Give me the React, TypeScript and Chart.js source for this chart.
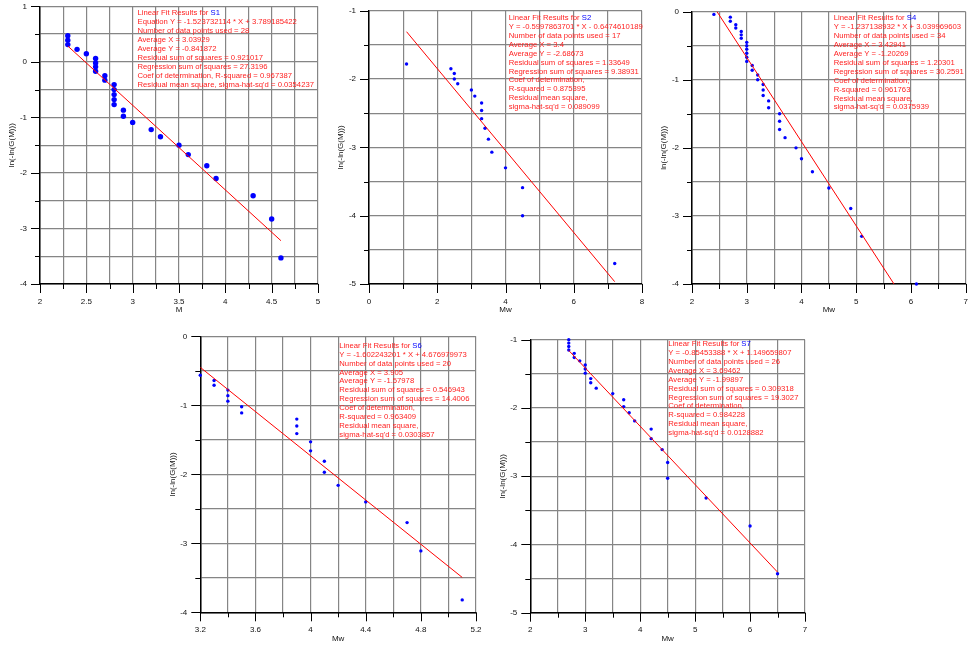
import React, { useEffect, useRef } from 'react';
import { Chart, registerables } from 'chart.js';

Chart.register(...registerables);

const FONT = '"Liberation Sans", Arial, Helvetica, sans-serif';
const Y_TITLE = 'ln(-ln(G(M)))';

// ---------- S1 ----------
const S1_X = [2.3, 2.3, 2.3, 2.4, 2.5, 2.6, 2.6, 2.6, 2.6, 2.7, 2.7, 2.8, 2.8, 2.8, 2.8, 2.8, 2.9, 2.9, 3.0, 3.2, 3.3, 3.5, 3.6, 3.8, 3.9, 4.3, 4.5, 4.6];
const S1_Y = [0.47, 0.39, 0.31, 0.225, 0.147, 0.06, -0.02, -0.09, -0.17, -0.25, -0.33, -0.41, -0.5, -0.59, -0.68, -0.77, -0.87, -0.98, -1.09, -1.22, -1.35, -1.5, -1.67, -1.87, -2.1, -2.41, -2.83, -3.53];
const S1_FIT = [-1.523732114, 3.789185422];
const S1_XTICKS = [2, 2.25, 2.5, 2.75, 3, 3.25, 3.5, 3.75, 4, 4.25, 4.5, 4.75, 5];
const S1_XLABELS = [2, 2.5, 3, 3.5, 4, 4.5, 5];
const S1_YTICKS = [-4, -3.5, -3, -2.5, -2, -1.5, -1, -0.5, 0, 0.5, 1];
const S1_YLABELS = [-4, -3, -2, -1, 0, 1];
const S1_TEXT = [
  'Equation Y = -1.523732114 * X + 3.789185422',
  'Number of data points used = 28',
  'Average X = 3.03929',
  'Average Y = -0.841872',
  'Residual sum of squares = 0.921017',
  'Regression sum of squares = 27.3196',
  'Coef of determination, R-squared = 0.967387',
  "Residual mean square, sigma-hat-sq'd = 0.0354237",
];

// ---------- S2 ----------
const S2_X = [1.1, 2.4, 2.5, 2.5, 2.6, 3.0, 3.1, 3.3, 3.3, 3.3, 3.4, 3.5, 3.6, 4.0, 4.5, 4.5, 7.2];
const S2_Y = [-1.78, -1.85, -1.92, -2.0, -2.07, -2.16, -2.25, -2.35, -2.46, -2.58, -2.72, -2.88, -3.07, -3.3, -3.59, -4.0, -4.7];
const S2_FIT = [-0.5997863701, -0.6474610189];
const S2_XTICKS = [0, 1, 2, 3, 4, 5, 6, 7, 8];
const S2_XLABELS = [0, 2, 4, 6, 8];
const S2_YTICKS = [-5, -4.5, -4, -3.5, -3, -2.5, -2, -1.5, -1];
const S2_YLABELS = [-5, -4, -3, -2, -1];
const S2_TEXT = [
  'Y = -0.5997863701 * X - 0.6474610189',
  'Number of data points used = 17',
  'Average X = 3.4',
  'Average Y = -2.68673',
  'Residual sum of squares = 1.33649',
  'Regression sum of squares = 9.38931',
  'Coef of determination,',
  'R-squared = 0.875395',
  'Residual mean square,',
  "sigma-hat-sq'd = 0.089099",
];

// ---------- S4 ----------
const S4_X = [2.4, 2.7, 2.7, 2.8, 2.8, 2.9, 2.9, 2.9, 3.0, 3.0, 3.0, 3.0, 3.0, 3.0, 3.1, 3.1, 3.2, 3.2, 3.3, 3.3, 3.3, 3.4, 3.4, 3.6, 3.6, 3.6, 3.7, 3.9, 4.0, 4.2, 4.5, 4.9, 5.1, 6.1];
const S4_Y = [-0.04, -0.08, -0.14, -0.19, -0.24, -0.29, -0.34, -0.39, -0.45, -0.5, -0.55, -0.61, -0.67, -0.73, -0.79, -0.86, -0.93, -1.0, -1.07, -1.15, -1.23, -1.31, -1.41, -1.5, -1.61, -1.73, -1.85, -2.0, -2.16, -2.35, -2.59, -2.89, -3.3, -4.0];
const S4_FIT = [-1.237138932, 3.039969603];
const S4_XTICKS = [2, 2.5, 3, 3.5, 4, 4.5, 5, 5.5, 6, 6.5, 7];
const S4_XLABELS = [2, 3, 4, 5, 6, 7];
const S4_YTICKS = [-4, -3.5, -3, -2.5, -2, -1.5, -1, -0.5, 0];
const S4_YLABELS = [-4, -3, -2, -1, 0];
const S4_TEXT = [
  'Y = -1.237138932 * X + 3.039969603',
  'Number of data points used = 34',
  'Average X = 3.42941',
  'Average Y = -1.20269',
  'Residual sum of squares = 1.20301',
  'Regression sum of squares = 30.2591',
  'Coef of determination,',
  'R-squared = 0.961763',
  'Residual mean square,',
  "sigma-hat-sq'd = 0.0375939",
];

// ---------- S6 ----------
const S6_X = [3.2, 3.3, 3.3, 3.4, 3.4, 3.4, 3.5, 3.5, 3.9, 3.9, 3.9, 4.0, 4.0, 4.1, 4.1, 4.2, 4.4, 4.7, 4.8, 5.1];
const S6_Y = [-0.565, -0.64, -0.71, -0.78, -0.86, -0.94, -1.02, -1.11, -1.2, -1.3, -1.41, -1.53, -1.66, -1.81, -1.97, -2.16, -2.4, -2.7, -3.11, -3.82];
const S6_FIT = [-1.602243201, 4.676979973];
const S6_XTICKS = [3.2, 3.4, 3.6, 3.8, 4, 4.2, 4.4, 4.6, 4.8, 5, 5.2];
const S6_XLABELS = [3.2, 3.6, 4, 4.4, 4.8, 5.2];
const S6_YTICKS = [-4, -3.5, -3, -2.5, -2, -1.5, -1, -0.5, 0];
const S6_YLABELS = [-4, -3, -2, -1, 0];
const S6_TEXT = [
  'Y = -1.602243201 * X + 4.676979973',
  'Number of data points used = 20',
  'Average X = 3.905',
  'Average Y = -1.57978',
  'Residual sum of squares = 0.546943',
  'Regression sum of squares = 14.4006',
  'Coef of determination,',
  'R-squared = 0.963409',
  'Residual mean square,',
  "sigma-hat-sq'd = 0.0303857",
];

// ---------- S7 ----------
const S7_X = [2.7, 2.7, 2.7, 2.7, 2.8, 2.8, 2.9, 3.0, 3.0, 3.0, 3.1, 3.1, 3.2, 3.5, 3.7, 3.7, 3.8, 3.9, 4.2, 4.2, 4.4, 4.5, 4.5, 5.2, 6.0, 6.5];
const S7_Y = [-1.0, -1.05, -1.1, -1.15, -1.2, -1.26, -1.31, -1.37, -1.43, -1.49, -1.57, -1.63, -1.71, -1.79, -1.88, -1.98, -2.07, -2.19, -2.31, -2.45, -2.61, -2.8, -3.03, -3.32, -3.73, -4.43];
const S7_FIT = [-0.85453388, 1.149659807];
const S7_XTICKS = [2, 2.5, 3, 3.5, 4, 4.5, 5, 5.5, 6, 6.5, 7];
const S7_XLABELS = [2, 3, 4, 5, 6, 7];
const S7_YTICKS = [-5, -4.5, -4, -3.5, -3, -2.5, -2, -1.5, -1];
const S7_YLABELS = [-5, -4, -3, -2, -1];
const S7_TEXT = [
  'Y = -0.85453388 * X + 1.149659807',
  'Number of data points used = 26',
  'Average X = 3.69462',
  'Average Y = -1.99897',
  'Residual sum of squares = 0.309318',
  'Regression sum of squares = 19.3027',
  'Coef of determination,',
  'R-squared = 0.984228',
  'Residual mean square,',
  "sigma-hat-sq'd = 0.0128882",
];

type PanelDef = {
  name: string;
  xs: number[];
  ys: number[];
  fit: number[];
  xTicks: number[];
  xLabels: number[];
  yTicks: number[];
  yLabels: number[];
  xTitle: string;
  text: string[];
  box: number[]; // canvas left, top, width, height
  plot: number[]; // plot left, top, right, bottom (page px)
  textOff: number[];
  r: number;
};

const PANELS: PanelDef[] = [
  { name: 'S1', xs: S1_X, ys: S1_Y, fit: S1_FIT, xTicks: S1_XTICKS, xLabels: S1_XLABELS, yTicks: S1_YTICKS, yLabels: S1_YLABELS, xTitle: 'M', text: S1_TEXT, box: [0, 0, 330, 320], plot: [40, 6.3, 318, 284], textOff: [97.5, 7], r: 2.7 },
  { name: 'S2', xs: S2_X, ys: S2_Y, fit: S2_FIT, xTicks: S2_XTICKS, xLabels: S2_XLABELS, yTicks: S2_YTICKS, yLabels: S2_YLABELS, xTitle: 'Mw', text: S2_TEXT, box: [330, 0, 320, 320], plot: [369, 10.7, 642, 284], textOff: [139.7, 7.3], r: 1.7 },
  { name: 'S4', xs: S4_X, ys: S4_Y, fit: S4_FIT, xTicks: S4_XTICKS, xLabels: S4_XLABELS, yTicks: S4_YTICKS, yLabels: S4_YLABELS, xTitle: 'Mw', text: S4_TEXT, box: [650, 0, 318, 320], plot: [692, 11.7, 965.7, 284], textOff: [141.7, 6.6], r: 1.7 },
  { name: 'S6', xs: S6_X, ys: S6_Y, fit: S6_FIT, xTicks: S6_XTICKS, xLabels: S6_XLABELS, yTicks: S6_YTICKS, yLabels: S6_YLABELS, xTitle: 'Mw', text: S6_TEXT, box: [160, 320, 330, 326], plot: [200.3, 336.3, 476, 612.3], textOff: [139, 9.4], r: 1.7 },
  { name: 'S7', xs: S7_X, ys: S7_Y, fit: S7_FIT, xTicks: S7_XTICKS, xLabels: S7_XLABELS, yTicks: S7_YTICKS, yLabels: S7_YLABELS, xTitle: 'Mw', text: S7_TEXT, box: [490, 320, 330, 326], plot: [530.3, 339.7, 805, 612.7], textOff: [138, 4.3], r: 1.7 },
];

const FS = 8;
const TFS = 7.7;
const LH = FS * 1.2;
const LINE_STEP = 8.9;

function PanelChart({ p }: { p: PanelDef }) {
  const ref = useRef<HTMLCanvasElement | null>(null);
  useEffect(() => {
    if (!ref.current) return;
    const [cl, ct, cw, ch] = p.box;
    const [L, T, R, B] = p.plot;
    const yW = L - cl;
    const xH = ct + ch - B;
    const minX = Math.min(...p.xs);
    const maxX = Math.max(...p.xs);
    const f = (x: number) => p.fit[0] * x + p.fit[1];
    const pts = p.xs.map((x, i) => ({ x, y: p.ys[i] }));

    const decor = {
      id: 'decor',
      afterDraw(chart: any) {
        const ctx = chart.ctx;
        const xs = chart.scales.x;
        const ys = chart.scales.y;
        const a = chart.chartArea;
        ctx.save();
        ctx.strokeStyle = '#000';
        ctx.lineWidth = 1;
        ctx.beginPath();
        p.xTicks.forEach((v) => {
          const px = Math.round(xs.getPixelForValue(v)) + 0.5;
          const len = p.xLabels.includes(v) ? 9 : 5;
          ctx.moveTo(px, a.bottom);
          ctx.lineTo(px, a.bottom + len);
        });
        p.yTicks.forEach((v) => {
          const py = Math.round(ys.getPixelForValue(v)) + 0.5;
          const len = p.yLabels.includes(v) ? 9 : 5;
          ctx.moveTo(a.left - len, py);
          ctx.lineTo(a.left, py);
        });
        ctx.stroke();

        // annotation text
        ctx.font = `${TFS}px ${FONT}`;
        ctx.textBaseline = 'middle';
        ctx.textAlign = 'left';
        const tx = a.left + p.textOff[0];
        let ty = a.top + p.textOff[1];
        const head = 'Linear Fit Results for ';
        ctx.fillStyle = '#ff2222';
        ctx.fillText(head, tx, ty);
        const hw = ctx.measureText(head).width;
        ctx.fillStyle = '#0000ff';
        ctx.fillText(p.name, tx + hw, ty);
        ctx.fillStyle = '#ff2222';
        p.text.forEach((line) => {
          ty += LINE_STEP;
          ctx.fillText(line, tx, ty);
        });
        ctx.restore();
      },
    };

    const gridColor = '#858585';
    const tickFont = { family: FONT, size: FS };

    const chart = new Chart(ref.current, {
      type: 'scatter',
      data: {
        datasets: [
          {
            data: [
              { x: minX, y: f(minX) },
              { x: maxX, y: f(maxX) },
            ],
            showLine: true,
            borderColor: '#ff0000',
            backgroundColor: '#ff0000',
            borderWidth: 1,
            pointRadius: 0,
            pointHoverRadius: 0,
          } as any,
          {
            data: pts,
            backgroundColor: '#0000ff',
            borderColor: '#0000ff',
            borderWidth: 0,
            pointRadius: p.r,
            pointHoverRadius: p.r,
            clip: false,
          } as any,
        ],
      },
      options: {
        animation: false,
        responsive: false,
        maintainAspectRatio: false,
        events: [],
        layout: { padding: { left: 0, top: T - ct, right: cl + cw - R, bottom: 0 } },
        plugins: { legend: { display: false }, tooltip: { enabled: false } },
        scales: {
          x: {
            type: 'linear',
            min: p.xTicks[0],
            max: p.xTicks[p.xTicks.length - 1],
            afterBuildTicks: (s: any) => {
              s.ticks = p.xTicks.map((v) => ({ value: v }));
            },
            afterFit: (s: any) => {
              s.height = xH;
              s.paddingLeft = 0;
              s.paddingRight = 0;
            },
            ticks: {
              autoSkip: false,
              maxRotation: 0,
              minRotation: 0,
              padding: 12.5,
              font: tickFont,
              color: '#111',
              callback: (v: any) => (p.xLabels.includes(v) ? String(v) : ''),
            },
            grid: { color: gridColor, lineWidth: 1.2, drawTicks: false },
            border: { color: '#000', width: 1.5 },
            title: {
              display: true,
              text: p.xTitle,
              font: tickFont,
              color: '#111',
              padding: { top: 0, bottom: xH - 26 - LH / 2 },
            },
          },
          y: {
            type: 'linear',
            min: p.yTicks[0],
            max: p.yTicks[p.yTicks.length - 1],
            afterBuildTicks: (s: any) => {
              s.ticks = p.yTicks.map((v) => ({ value: v }));
            },
            afterFit: (s: any) => {
              s.width = yW;
              s.paddingTop = 0;
              s.paddingBottom = 0;
            },
            ticks: {
              autoSkip: false,
              padding: 13,
              font: tickFont,
              color: '#111',
              callback: (v: any) => (p.yLabels.includes(v) ? String(v) : ''),
            },
            grid: { color: gridColor, lineWidth: 1.2, drawTicks: false },
            border: { color: '#000', width: 1.5 },
            title: {
              display: true,
              text: Y_TITLE,
              font: tickFont,
              color: '#111',
              padding: { top: yW - 28 - LH / 2, bottom: 0 },
            },
          },
        },
      } as any,
      plugins: [decor as any],
    });
    return () => chart.destroy();
  }, [p]);

  const [cl, ct, cw, ch] = p.box;
  return (
    <canvas
      ref={ref}
      width={cw}
      height={ch}
      style={{ position: 'absolute', left: cl, top: ct, width: cw, height: ch }}
    />
  );
}

export default function App() {
  return (
    <div style={{ position: 'absolute', left: 0, top: 0, width: 968, height: 646, background: '#fff', overflow: 'hidden' }}>
      {PANELS.map((p) => (
        <PanelChart key={p.name} p={p} />
      ))}
    </div>
  );
}
